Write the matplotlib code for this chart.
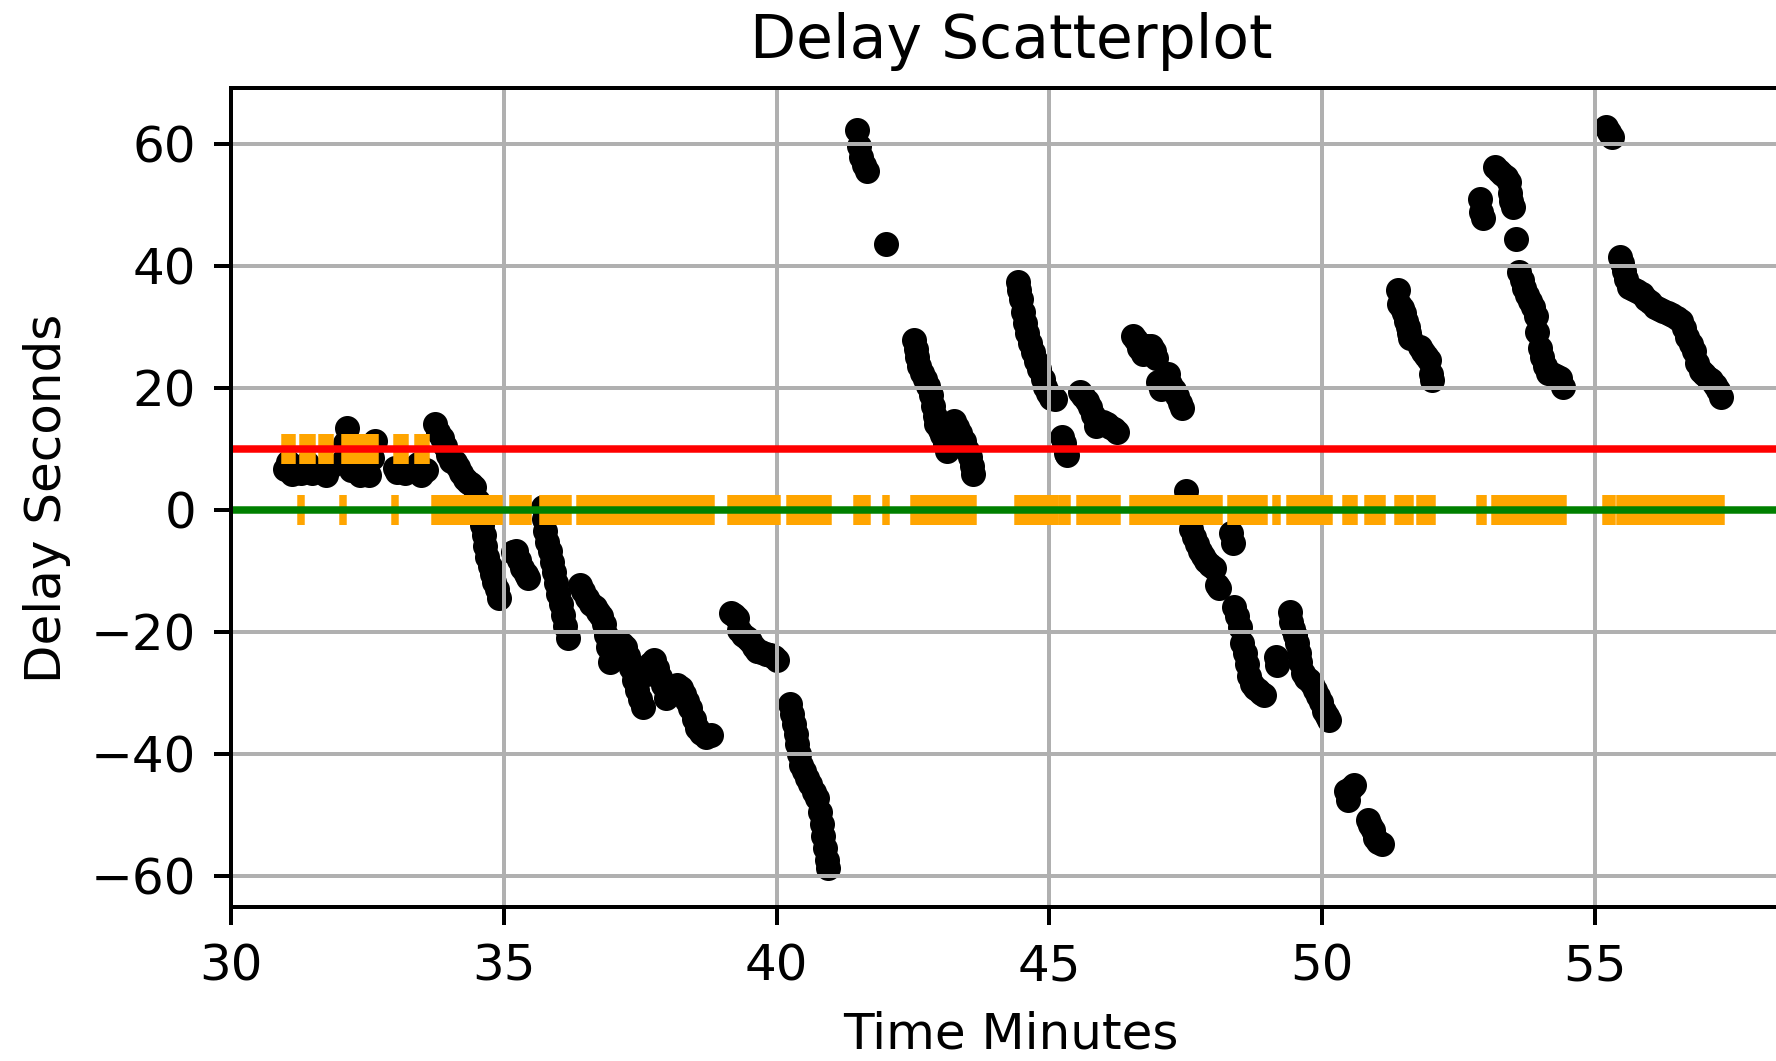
import matplotlib.pyplot as plt

# sample times (minutes) and measured delay (seconds)
minutes = [
    30.99, 31.05, 31.12, 31.29, 31.31, 31.39, 31.48, 31.67, 31.74, 31.81,
    32.05, 32.08, 32.12, 32.20, 32.28, 32.37, 32.45, 32.52, 32.58, 32.64,
    33.01, 33.04, 33.11, 33.19, 33.42, 33.49, 33.57,
    33.74, 33.80, 33.86, 33.92, 33.98, 34.04, 34.10, 34.16, 34.22, 34.28,
    34.34, 34.40, 34.46, 34.52, 34.56, 34.60, 34.63, 34.66, 34.70, 34.74,
    34.78, 34.82, 34.87, 34.92,
    35.16, 35.22, 35.28, 35.34, 35.40, 35.44,
    35.71, 35.73, 35.76, 35.80, 35.84, 35.88, 35.92, 35.96, 36.00, 36.05,
    36.09, 36.13, 36.18,
    36.40, 36.46, 36.53, 36.60, 36.67, 36.73, 36.78, 36.83, 36.87, 36.91,
    36.95, 37.02, 37.10, 37.16, 37.22, 37.28, 37.33, 37.38, 37.44, 37.50,
    37.56, 37.62, 37.68, 37.75, 37.80, 37.86, 37.92, 37.98, 38.04, 38.10,
    38.17, 38.24, 38.30, 38.36, 38.42, 38.48, 38.54, 38.61, 38.70, 38.79,
    39.16, 39.22, 39.28, 39.32, 39.38, 39.46, 39.52, 39.58, 39.65, 39.72,
    39.80, 39.88, 39.95, 40.00,
    40.25, 40.29, 40.32, 40.35, 40.38, 40.42, 40.45, 40.50, 40.56, 40.62,
    40.68, 40.74, 40.79, 40.83, 40.86, 40.89, 40.92, 40.94,
    41.48, 41.51, 41.55, 41.60, 41.66, 42.00,
    42.52, 42.55, 42.58, 42.62, 42.67, 42.73, 42.78, 42.83, 42.87, 42.90,
    42.93, 42.99, 43.04, 43.08, 43.12, 43.20, 43.25, 43.31, 43.37, 43.43,
    43.49, 43.54, 43.58, 43.61,
    44.42, 44.45, 44.48, 44.51, 44.55, 44.60, 44.65, 44.70, 44.76, 44.82,
    44.88, 44.93, 44.98, 45.04, 45.10, 45.24, 45.27, 45.30, 45.33,
    45.56, 45.62, 45.69, 45.75, 45.81, 45.86, 45.92, 45.98, 46.05, 46.12,
    46.19, 46.25,
    46.53, 46.59, 46.65, 46.72, 46.79, 46.86, 46.92, 46.96, 47.00, 47.04,
    47.10, 47.17, 47.22, 47.28, 47.34, 47.39, 47.44, 47.50, 47.55, 47.60,
    47.65, 47.70, 47.76, 47.82, 47.88, 47.95, 48.02, 48.07, 48.12,
    48.33, 48.36, 48.39, 48.44, 48.50, 48.54, 48.59, 48.63, 48.67, 48.72,
    48.77, 48.83, 48.89, 48.94,
    49.15, 49.18,
    49.41, 49.44, 49.47, 49.51, 49.54, 49.57, 49.60, 49.65, 49.70, 49.76,
    49.82, 49.87, 49.93, 49.98, 50.04, 50.09, 50.13,
    50.44, 50.47, 50.53, 50.58,
    50.84, 50.88, 50.93, 50.98, 51.02, 51.10,
    51.39, 51.42, 51.46, 51.50, 51.54, 51.57, 51.60, 51.62, 51.79, 51.85,
    51.91, 51.97, 52.00, 52.02,
    52.89, 52.92, 52.96,
    53.18, 53.24, 53.30, 53.37, 53.42, 53.44, 53.47, 53.50, 53.56, 53.62,
    53.66, 53.70, 53.76, 53.82, 53.87, 53.92, 53.95, 53.99, 54.04, 54.09,
    54.15, 54.22, 54.29, 54.36, 54.41,
    55.20, 55.26, 55.32, 55.46, 55.50, 55.53, 55.57, 55.62, 55.70, 55.78,
    55.86, 55.94, 56.02, 56.10, 56.18, 56.26, 56.34, 56.42, 56.50, 56.58,
    56.64, 56.70, 56.76, 56.82, 56.88, 56.94, 57.00, 57.07, 57.14, 57.20,
    57.26, 57.32,
]

delay_s = [
    6.7, 7.8, 5.8, 6.0, 6.2, 7.6, 6.0, 6.2, 5.7, 7.0,
    8.0, 11.0, 13.4, 6.5, 9.0, 5.7, 7.5, 5.7, 8.5, 11.2,
    6.8, 6.2, 7.0, 6.0, 7.5, 5.7, 6.5,
    14.0, 12.8, 11.8, 10.5, 9.0, 8.0, 7.8, 7.0, 6.0, 5.0,
    4.5, 4.2, 3.8, 1.5, -0.5, -2.5, -4.2, -6.0, -7.8, -9.2,
    -10.5, -11.8, -13.0, -14.5,
    -7.0, -6.8, -8.3, -9.6, -10.6, -11.2,
    0.5, -1.5, -3.5, -5.3, -6.8, -8.5, -10.2, -12.0, -13.8, -15.5,
    -17.2, -19.0, -21.0,
    -12.4, -13.3, -14.4, -15.4, -16.0, -16.8, -17.5, -18.8, -20.5, -22.5,
    -25.0, -22.3, -21.8, -22.0, -22.5, -24.0, -26.0, -28.0, -29.5, -31.0,
    -32.4, -27.0, -25.3, -24.7, -26.0, -27.5, -28.8, -30.8, -29.6, -29.0,
    -28.8, -29.2, -30.3, -31.4, -32.5, -34.3, -35.8, -36.7, -37.2, -37.0,
    -17.0, -17.3, -17.8, -19.8, -20.5, -21.0, -21.6, -22.5, -23.1, -23.4,
    -23.6, -23.8, -24.2, -24.7,
    -31.8, -33.5, -35.2, -36.8, -38.4, -40.0, -41.8, -42.8, -44.0, -45.0,
    -46.3, -47.3, -49.5, -51.5, -53.5, -55.5, -57.5, -58.8,
    62.2, 59.6, 57.8, 56.5, 55.5, 43.6,
    27.8, 26.3, 25.0, 23.5, 22.5, 21.5, 20.3, 18.8, 17.0, 15.3,
    14.0, 13.0, 12.3, 10.8, 9.7, 13.5, 14.6, 13.6, 12.5, 11.2,
    9.8, 8.6, 7.2, 5.9,
    37.3, 36.0, 34.6, 32.5, 30.6, 29.0, 27.3, 25.8, 24.4, 23.0,
    21.5, 20.2, 19.2, 18.4, 18.2, 12.0, 11.0, 9.3, 9.0,
    19.3, 18.6, 17.9, 16.8, 15.6, 13.8, 14.0, 14.4, 14.0, 13.6,
    13.2, 12.8,
    28.5, 27.8, 26.5, 25.6, 26.8, 26.8, 26.0, 24.8, 21.0, 19.8,
    21.5, 22.2, 20.6, 19.6, 18.6, 17.5, 16.6, 3.0, -0.8, -3.2,
    -4.5, -5.7, -6.7, -7.6, -8.4, -9.0, -9.6, -12.4, -12.8,
    -3.8, -5.4, -16.0, -17.4, -19.2, -21.8, -23.5, -25.3, -27.3, -28.6,
    -29.2, -29.6, -30.0, -30.4,
    -24.2, -25.4,
    -16.8, -18.4, -19.5, -20.6, -21.8, -23.5, -25.0, -26.8, -27.6, -28.0,
    -28.6, -29.6, -30.6, -31.6, -33.0, -33.8, -34.5,
    -46.2, -47.6, -45.6, -45.2,
    -50.9, -51.7, -52.6, -53.8, -54.5, -54.8,
    36.0, 33.8, 33.0, 32.2, 31.0, 30.0, 29.0, 28.2, 26.7, 25.8,
    25.2, 24.6, 22.3, 21.2,
    51.0, 48.8, 47.8,
    56.2, 55.6, 55.0, 54.6, 53.8, 52.0, 50.6, 49.6, 44.4, 39.0,
    37.6, 36.3, 35.2, 34.3, 33.2, 31.8, 29.2, 26.5, 25.0, 23.6,
    22.4, 22.2, 21.9, 21.6, 20.1,
    62.8, 62.0, 61.2, 41.4, 40.4, 39.2, 37.8, 36.6, 36.2, 35.8,
    35.3, 34.6, 34.0, 33.3, 32.9, 32.6, 32.2, 31.9, 31.5, 31.0,
    29.8, 28.4, 27.2, 26.0, 24.0, 22.8, 22.2, 21.6, 21.2, 20.5,
    19.6, 18.5,
]

# orange marker level for each sample (10 early on, 0 afterwards)
flag_level = [
    10, 10, 10, 0, 10, 10, 10, 10, 10, 10,
    0, 10, 10, 10, 10, 10, 10, 10, 10, 10,
    0, 10, 10, 10, 10, 10, 10,
] + [0] * (len(minutes) - 27)

upper_limit = 10
lower_limit = 0

fig = plt.figure(figsize=(1776 / 360, 1061 / 360), dpi=360)
ax = fig.add_axes([0.1301, 0.1449, 0.8784, 0.7718])

ax.scatter(minutes, delay_s, s=16, color='black')
ax.plot(minutes, flag_level, '|', color='orange', markersize=6, markeredgewidth=1.5)
ax.axhline(upper_limit, color='red', linewidth=1.5)
ax.axhline(lower_limit, color='green', linewidth=1.5)

ax.set_xlim(30, 58.6)
ax.set_ylim(-65.2, 69.1)
ax.set_xticks([30, 35, 40, 45, 50, 55])
ax.set_yticks([-60, -40, -20, 0, 20, 40, 60])
ax.grid(True)
ax.set_title('Delay Scatterplot')
ax.set_xlabel('Time Minutes')
ax.set_ylabel('Delay Seconds')

plt.savefig('out.png', dpi=360)
